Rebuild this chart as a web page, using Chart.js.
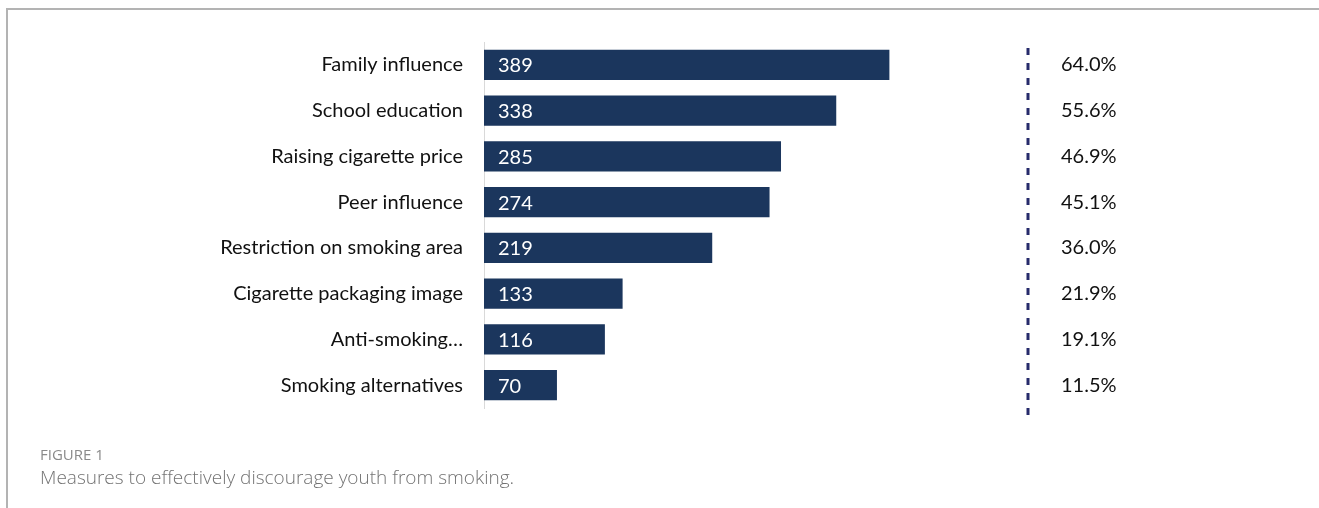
<!DOCTYPE html>
<html>
<head>
<meta charset="utf-8">
<script src="https://cdn.jsdelivr.net/npm/chart.js@4"></script>
<style>
  body { margin: 0; background: #fff; width: 1319px; height: 508px; overflow: hidden; position: relative; }
  #frame { position: absolute; left: 6px; top: 8px; right: 0; bottom: 0; border-top: 2px solid #b3b3b3; border-left: 2px solid #b3b3b3; }
  #chart { position: absolute; left: 0; top: -3px; }
  .fig { position: absolute; left: 40px; top: 444px; font-family: "Open Sans", sans-serif; font-size: 15px; font-weight: 500; color: #8a8a8a; }
  .cap { position: absolute; left: 40px; top: 464px; font-family: "Open Sans", sans-serif; font-size: 19px; font-weight: 300; color: #737373; }
</style>
</head>
<body>
<div id="frame"></div>
<canvas id="chart" width="1319" height="456"></canvas>
<div class="fig">FIGURE 1</div>
<div class="cap">Measures to effectively discourage youth from smoking.</div>
<script>
const measures = [
  "Family influence",
  "School education",
  "Raising cigarette price",
  "Peer influence",
  "Restriction on smoking area",
  "Cigarette packaging image",
  "Anti-smoking…",
  "Smoking alternatives",
];
const counts = [389, 338, 285, 274, 219, 133, 116, 70];
const percents = ["64.0%", "55.6%", "46.9%", "45.1%", "36.0%", "21.9%", "19.1%", "11.5%"];

// numbers inside the bars + dashed divider in front of the percentages
const barLabels = {
  id: "barLabels",
  afterDatasetsDraw(chart) {
    const ctx = chart.ctx;
    const meta = chart.getDatasetMeta(0);
    ctx.save();
    ctx.fillStyle = "#ffffff";
    ctx.font = "20px Lato";
    ctx.textAlign = "left";
    ctx.textBaseline = "middle";
    meta.data.forEach((bar, i) => {
      ctx.fillText(counts[i], bar.base + 14, bar.y + 1);
    });

    const s = chart.scales.y2;
    ctx.strokeStyle = "#262b6b";
    ctx.lineWidth = 3;
    ctx.setLineDash([7, 8]);
    ctx.beginPath();
    ctx.moveTo(s.left, chart.chartArea.top + 6);
    ctx.lineTo(s.left, chart.chartArea.bottom + 8);
    ctx.stroke();
    ctx.restore();
  },
};

const ctx = document.getElementById("chart").getContext("2d");
new Chart(ctx, {
  type: "bar",
  data: {
    labels: measures,
    datasets: [
      {
        data: counts,
        backgroundColor: "#1b365d",
        borderWidth: 0,
        categoryPercentage: 1,
        barPercentage: 0.66,
      },
    ],
  },
  options: {
    indexAxis: "y",
    responsive: false,
    animation: false,
    layout: { padding: { top: 42, bottom: 19, left: 0, right: 0 } },
    plugins: { legend: { display: false }, tooltip: { enabled: false } },
    scales: {
      x: { display: false, min: 0, max: 522 },
      y: {
        position: "left",
        grid: { display: false, drawTicks: false },
        border: { display: true, color: "#d9d9d9", width: 1 },
        ticks: { color: "#111", padding: 21, font: { family: "Lato", size: 20 } },
        afterFit: (scale) => { scale.width = 484; },
      },
      y2: {
        type: "category",
        labels: percents,
        position: "right",
        grid: { display: false, drawTicks: false },
        border: { display: false },
        ticks: { color: "#111", padding: 33, font: { family: "Lato", size: 20 } },
        afterFit: (scale) => { scale.width = 291; },
      },
    },
  },
  plugins: [barLabels],
});
</script>
</body>
</html>
